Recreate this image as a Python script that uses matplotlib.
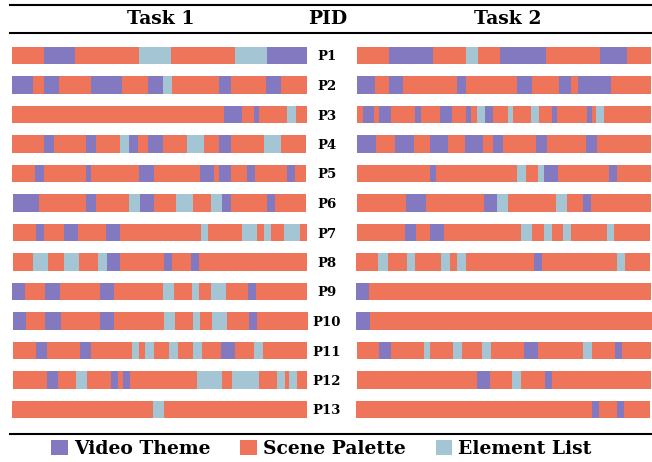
import matplotlib
matplotlib.use("Agg")
import matplotlib.pyplot as plt
import numpy as np
from matplotlib.patches import Patch
from matplotlib.lines import Line2D

# les participants
pids = ["P%d" % i for i in range(1, 14)]

# V = Video Theme, O = Scene Palette, E = Element List
couleurs = {"V": "#8379C1", "O": "#EE7559", "E": "#A3C5D4"}
noms = {"V": "Video Theme", "O": "Scene Palette", "E": "Element List"}

# Task 1 : suite des etapes et bornes de chaque segment
task1_cats = [
    "OVOEOEV",
    "VOVOVOVEOVOVO",
    "OVOVOEO",
    "OVOVOEVOVOEOVOEO",
    "OVOVOVOVOVOVOVO",
    "VOVOEVOEOEVOVO",
    "OVOVOVOEOEOEOEO",
    "OEOEOEVOVOVO",
    "VOVOVOEOEOEOVO",
    "VOVOVOEOEOEOVO",
    "OVOVOEOEOEOEOVOEO",
    "OVOEOVOVOEOEOEOEO",
    "OEO",
]
task1_bords = [
    [0, 32, 63, 127, 159, 223, 255, 295],
    [0, 21, 32, 47, 79, 110, 136, 151, 160, 207, 219, 254, 269, 295],
    [0, 212, 230, 242, 247, 275, 284, 295],
    [0, 32, 42, 74, 84, 108, 117, 126, 136, 151, 175, 192, 207, 219, 252, 269, 294],
    [0, 23, 32, 74, 79, 127, 142, 188, 202, 207, 219, 235, 243, 275, 283, 294],
    [1, 27, 74, 84, 117, 128, 142, 164, 181, 199, 210, 219, 255, 263, 294],
    [1, 24, 32, 52, 66, 94, 108, 189, 196, 230, 245, 252, 259, 272, 288, 295],
    [1, 21, 36, 52, 67, 86, 95, 108, 152, 160, 179, 187, 295],
    [0, 13, 33, 48, 88, 102, 151, 162, 180, 187, 199, 214, 236, 244, 295],
    [1, 14, 33, 49, 88, 102, 152, 163, 181, 188, 200, 215, 237, 245, 296],
    [1, 24, 35, 68, 79, 120, 127, 133, 142, 157, 166, 181, 190, 209, 223, 242, 251, 295],
    [1, 35, 46, 64, 75, 99, 106, 111, 118, 185, 210, 220, 247, 265, 273, 277, 285, 295],
    [0, 141, 152, 295],
]

# Task 2
task2_cats = [
    "OVOEOVOVO",
    "VOVOVOVOVOVO",
    "OVOVOVOVOVOEVOEOEOVOVOEO",
    "VOVOVOVOVOVOVO",
    "OVOEOEVOVO",
    "OVOVEOEOVO",
    "OVOVOEOEOEOEO",
    "OEOEOEOEOVOEO",
    "VO",
    "VO",
    "OVOEOEOEOVOEOVO",
    "OVOEOVO",
    "OVOVO",
]
task2_bords = [
    [0, 32, 76, 109, 121, 143, 189, 243, 270, 294],
    [0, 18, 32, 46, 100, 109, 160, 175, 202, 214, 221, 254, 294],
    [0, 6, 17, 22, 34, 58, 64, 83, 95, 109, 114, 120, 128, 136, 151, 156, 174, 182, 195, 200, 230, 235, 239, 247, 294],
    [0, 19, 38, 57, 73, 91, 108, 126, 136, 146, 179, 190, 229, 240, 294],
    [0, 73, 79, 160, 169, 181, 187, 201, 252, 260, 294],
    [0, 49, 69, 127, 140, 151, 199, 210, 226, 234, 294],
    [0, 48, 59, 73, 87, 164, 175, 187, 195, 206, 214, 250, 257, 293],
    [-1, 21, 31, 50, 58, 84, 93, 100, 109, 177, 185, 260, 268, 293],
    [-1, 12, 294],
    [-1, 13, 295],
    [0, 22, 34, 67, 73, 96, 105, 125, 134, 167, 181, 226, 235, 258, 265, 294],
    [0, 120, 133, 155, 164, 188, 195, 294],
    [-1, 235, 242, 260, 267, 293],
]

W, H = 652, 462
police = "DejaVu Serif"

fig = plt.figure(figsize=(W / 100, H / 100), dpi=100)
ax1 = fig.add_axes([11 / W, 1 - 424.25 / H, 296 / W, 383.5 / H])
ax2 = fig.add_axes([356 / W, 1 - 424.25 / H, 296 / W, 383.5 / H])


def dessine(ax, cats, bords):
    for i in range(len(cats)):
        b = np.array(bords[i])
        ax.barh(i, b[1:] - b[:-1], left=b[:-1], height=0.58,
                color=[couleurs[c] for c in cats[i]], linewidth=0, clip_on=False)
    ax.set_xlim(-1, 295)
    ax.set_ylim(12.5, -0.5)
    for s in ax.spines.values():
        s.set_visible(False)
    ax.set_xticks([])


dessine(ax1, task1_cats, task1_bords)
dessine(ax2, task2_cats, task2_bords)

ax1.set_yticks([])
ax2.set_yticks(range(len(pids)), pids)
ax2.tick_params(axis="y", length=0, pad=21)
for lab in ax2.get_yticklabels():
    lab.set_ha("center")
    lab.set_fontweight("bold")
    lab.set_fontfamily(police)
    lab.set_fontsize(9.5)

# entete
fig.text(161 / W, 1 - 19 / H, "Task 1", ha="center", va="center",
         fontsize=13.5, fontweight="bold", family=police)
fig.text(328 / W, 1 - 19 / H, "PID", ha="center", va="center",
         fontsize=13.5, fontweight="bold", family=police)
fig.text(508 / W, 1 - 19 / H, "Task 2", ha="center", va="center",
         fontsize=13.5, fontweight="bold", family=police)

for yy in [5, 33, 434]:
    fig.add_artist(Line2D([10 / W, 1], [1 - yy / H, 1 - yy / H], color="black", lw=1.5))

# legende
poignees = [Patch(facecolor=couleurs[k], label=noms[k]) for k in ["V", "O", "E"]]
fig.legend(handles=poignees, loc="center", bbox_to_anchor=(0.493, 1 - 449 / H),
           ncol=3, frameon=False, handlelength=0.9, handleheight=0.9,
           handletextpad=0.3, columnspacing=1.6, borderaxespad=0, borderpad=0,
           prop={"family": police, "weight": "bold", "size": 13.5})

fig.savefig("out.png", dpi=100)
